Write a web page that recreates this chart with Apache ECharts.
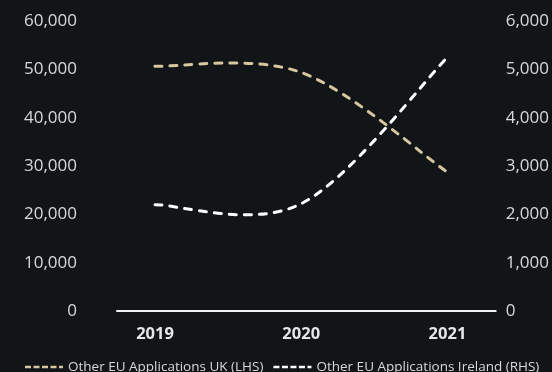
<!DOCTYPE html>
<html>
<head>
<meta charset="utf-8">
<script src="https://cdn.jsdelivr.net/npm/echarts@6/dist/echarts.min.js"></script>
<style>
  html, body { margin: 0; padding: 0; background: #121517; }
  #main { width: 552px; height: 372px; }
</style>
</head>
<body>
<div id="main"></div>
<script>
// data
const years = [2019, 2020, 2021];
const ukApplications = [50650, 49350, 28700];      // LHS
const irelandApplications = [2200, 2220, 5250];    // RHS
const leftTicks = [0, 10000, 20000, 30000, 40000, 50000, 60000];
const rightTicks = [0, 1000, 2000, 3000, 4000, 5000, 6000];

const fmt = v => v.toLocaleString('en-US');
const dashIcon = 'path://M0,0h6v2.5h-6z M8.5,0h6v2.5h-6z M17,0h6v2.5h-6z M25.5,0h6v2.5h-6z M34,0h4v2.5h-4z';

// smooth curve through the points (catmull-rom style, like the spreadsheet chart)
function smoothLine(color) {
  return function (params, api) {
    if (params.dataIndexInside !== 0) return;
    const n = params.dataInsideLength;
    const pts = [];
    for (let i = 0; i < n; i++) {
      pts.push(api.coord([api.value(0, i), api.value(1, i)]));
    }
    let d = 'M' + pts[0][0] + ',' + pts[0][1];
    for (let i = 0; i < n - 1; i++) {
      const p0 = pts[Math.max(i - 1, 0)];
      const p1 = pts[i];
      const p2 = pts[i + 1];
      const p3 = pts[Math.min(i + 2, n - 1)];
      const c1 = [p1[0] + (p2[0] - p0[0]) / 6, p1[1] + (p2[1] - p0[1]) / 6];
      const c2 = [p2[0] - (p3[0] - p1[0]) / 6, p2[1] - (p3[1] - p1[1]) / 6];
      d += ' C' + c1[0] + ',' + c1[1] + ' ' + c2[0] + ',' + c2[1] + ' ' + p2[0] + ',' + p2[1];
    }
    return {
      type: 'path',
      shape: { pathData: d },
      style: {
        fill: 'none',
        stroke: color,
        lineWidth: 3,
        lineDash: [7, 8],
        lineCap: 'round'
      }
    };
  };
}

const chart = echarts.init(document.getElementById('main'));

const option = {
  animation: false,
  backgroundColor: '#121517',
  textStyle: { fontFamily: 'Open Sans' },
  grid: { left: 117, right: 56, top: 21, bottom: 61 },
  legend: {
    left: 20,
    top: 355,
    icon: dashIcon,
    itemWidth: 38,
    itemHeight: 2.5,
    itemGap: 10,
    textStyle: { color: '#d9d9d9', fontSize: 13.5, fontFamily: 'Open Sans' },
    data: ['Other EU Applications UK (LHS)', 'Other EU Applications Ireland (RHS)']
  },
  xAxis: {
    type: 'value',
    min: 2018.74,
    max: 2021.33,
    splitLine: { show: false },
    axisTick: { show: false },
    axisLine: { show: true, lineStyle: { color: '#f2f2f2', width: 2 } },
    axisLabel: {
      customValues: years,
      formatter: v => String(v),
      color: '#e6e6e6',
      fontSize: 16.5,
      fontWeight: 'bold',
      margin: 15
    }
  },
  yAxis: [
    {
      type: 'value',
      min: leftTicks[0],
      max: leftTicks[leftTicks.length - 1],
      interval: 10000,
      splitLine: { show: false },
      axisLine: { show: false },
      axisTick: { show: false },
      axisLabel: { color: '#d9d9d9', fontSize: 17, margin: 40, formatter: fmt }
    },
    {
      type: 'value',
      position: 'right',
      min: rightTicks[0],
      max: rightTicks[rightTicks.length - 1],
      interval: 1000,
      splitLine: { show: false },
      axisLine: { show: false },
      axisTick: { show: false },
      axisLabel: { color: '#d9d9d9', fontSize: 17, margin: 10, formatter: fmt }
    }
  ],
  series: [
    {
      name: 'Other EU Applications UK (LHS)',
      type: 'custom',
      yAxisIndex: 0,
      color: '#d8c69e',
      renderItem: smoothLine('#d8c69e'),
      encode: { x: 0, y: 1 },
      data: years.map((y, i) => [y, ukApplications[i]])
    },
    {
      name: 'Other EU Applications Ireland (RHS)',
      type: 'custom',
      yAxisIndex: 1,
      color: '#ffffff',
      renderItem: smoothLine('#ffffff'),
      encode: { x: 0, y: 1 },
      data: years.map((y, i) => [y, irelandApplications[i]])
    }
  ]
};

chart.setOption(option);
</script>
</body>
</html>
